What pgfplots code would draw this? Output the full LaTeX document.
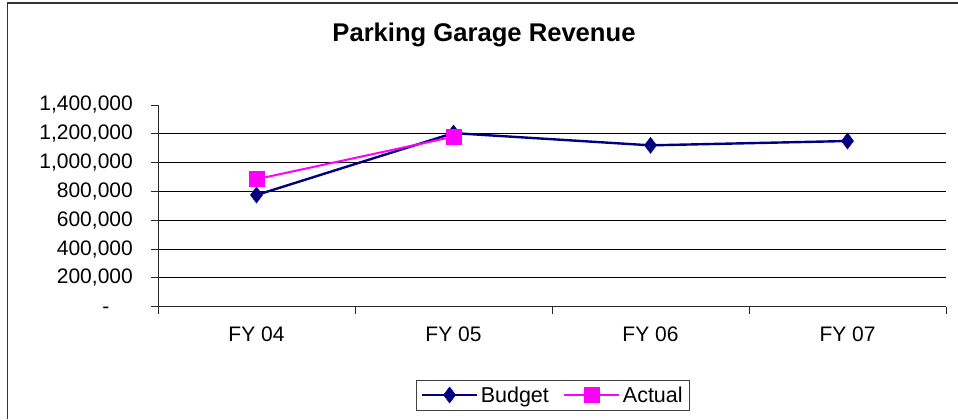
\documentclass[border=0pt]{standalone}
\usepackage{pgfplots}
\pgfplotsset{compat=1.18}
\usepackage{fontspec}
\setmainfont{Liberation Sans}
\definecolor{budget}{HTML}{000080}
\definecolor{actual}{HTML}{FF00FF}
\begin{document}
\begin{tikzpicture}[x=1bp,y=1bp]
\useasboundingbox (0,0) rectangle (958,419);
\fill[white] (0,0) rectangle (958,419);
\draw[line width=1.5bp,black!80] (7.3,0) -- (7.3,416) -- (958,416);
\node[anchor=base,font=\fontsize{25.6bp}{30bp}\selectfont\bfseries] at (484,377.3) {Parking Garage Revenue};
\begin{axis}[
  at={(158bp,112.3bp)}, anchor=south west,
  scale only axis, width=788bp, height=201.7bp,
  xmin=-0.5, xmax=3.5, ymin=0, ymax=1400000,
  axis x line*=bottom, axis y line*=left,
  axis line style={black!85, line width=0.9bp},
  tick align=outside, major tick length=7bp,
  tick style={black!85, line width=0.9bp},
  /pgf/number format/assume math mode=true,
  scaled y ticks=false,
  xtick={-0.5,0.5,1.5,2.5,3.5}, xticklabels={},
  extra x ticks={0,1,2,3},
  extra x tick labels={FY 04,FY 05,FY 06,FY 07},
  extra x tick style={major tick length=0bp, grid=none,
     xticklabel style={font=\fontsize{21bp}{25bp}\selectfont, anchor=north, inner sep=0bp, yshift=-20bp}},
  ytick={0,200000,400000,600000,800000,1000000,1200000},
  yticklabels={{-\phantom{00}},{200{,}000},{400{,}000},{600{,}000},{800{,}000},{1{,}000{,}000},{1{,}200{,}000}},
  extra y ticks={1400000}, extra y tick labels={{1{,}400{,}000}},
  extra y tick style={grid=none},
  yticklabel style={font=\fontsize{21bp}{24bp}\selectfont, anchor=east, inner sep=0bp, xshift=-18bp},
  ymajorgrids, grid style={black, line width=0.9bp},
  legend columns=2,
  legend style={at={(0.5013,-0.4378)}, anchor=center, draw=black!75, line width=0.9bp,
     font=\fontsize{21.5bp}{25bp}\selectfont, inner xsep=4bp, inner ysep=4bp,
     nodes={inner sep=2.5bp},
     /tikz/every even column/.append style={column sep=12bp}},
  legend image code/.code={\draw[mark repeat=2,mark phase=2,#1] plot coordinates {(0bp,0bp)(27.5bp,0bp)(55bp,0bp)};},
]
\addplot[budget, line width=2.4bp, mark=diamond*, mark size=8bp, mark options={solid, fill=budget, draw=budget, line width=0.5bp}]
  coordinates {(0,775000) (1,1205000) (2,1120000) (3,1150000)};
\addlegendentry{Budget}
\addplot[actual, line width=2bp, mark=square*, mark size=7.5bp, mark options={solid, fill=actual, draw=actual, line width=0.5bp}]
  coordinates {(0,885000) (1,1180000)};
\addlegendentry{Actual}
\end{axis}
\end{tikzpicture}
\end{document}
